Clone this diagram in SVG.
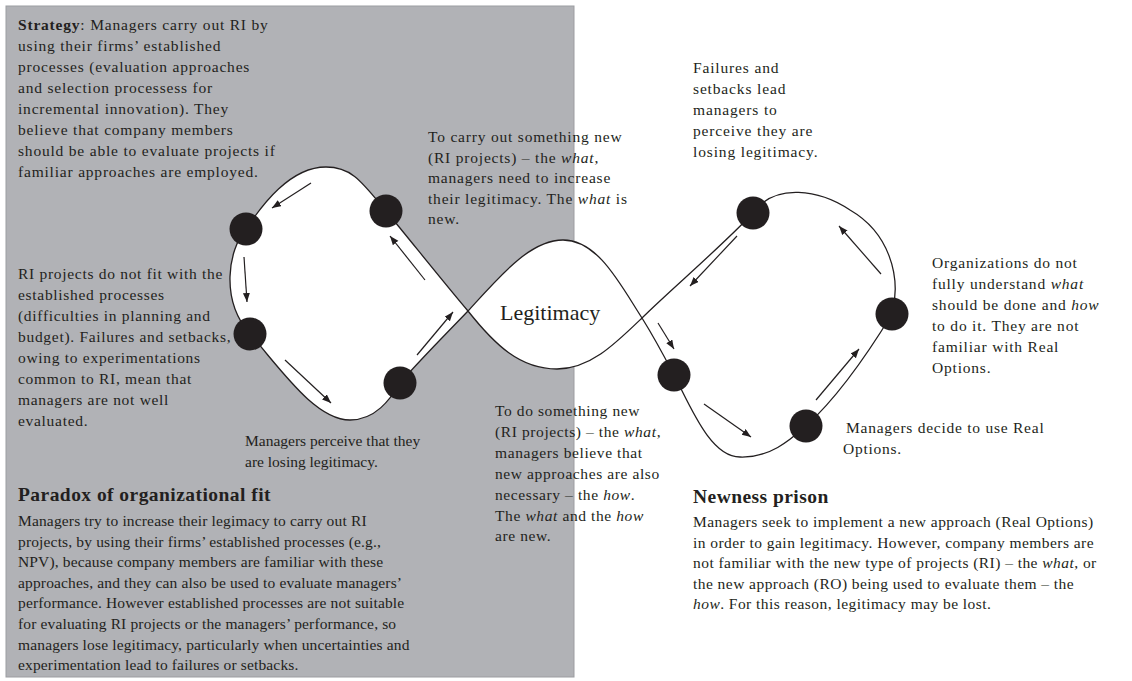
<svg xmlns="http://www.w3.org/2000/svg" width="1132" height="681" viewBox="0 0 1132 681">
<style>
text{font-family:"Liberation Serif","Times New Roman",serif;font-size:15.5px;fill:#231f20}
.h{font-weight:bold;font-size:19.5px;letter-spacing:0.45px}
.big{font-size:22px}
.i{font-style:italic}
.b{font-weight:bold}
.curve{fill:#fff;stroke:#231f20;stroke-width:1.3;fill-rule:nonzero}
.dot{fill:#231f20}
.arr{stroke:#231f20;stroke-width:1.2;fill:none;marker-end:url(#ah)}
#text-strategy text{letter-spacing:0.8px}
#text-ri-fit text{letter-spacing:0.7px}
#text-paradox text.p{letter-spacing:0.15px}
#text-carry-out text{letter-spacing:0.8px}
#text-failures text{letter-spacing:0.85px}
#text-do-new text{letter-spacing:0.6px}
#text-organizations text{letter-spacing:0.8px}
#text-decide text{letter-spacing:0.75px}
#text-newness text.p{letter-spacing:0.45px}
</style>
<defs>
<marker id="ah" markerUnits="userSpaceOnUse" markerWidth="10" markerHeight="8" refX="9" refY="3.5" orient="auto">
<path d="M0,0 L9,3.5 L0,7 z" fill="#231f20"/>
</marker>
</defs>
<rect x="6" y="6" width="568" height="671" fill="#b1b2b6" stroke="#9c9da1" stroke-width="1"/>

<g id="connectors">
<path class="curve" d="M468,311 C445,284 410,240 386,211 C362,182 352,167 326,167 C290,167 262,205 246,229 C228,250 220,300 250,334 C280,368 315,420 350,420 C375,420 390,400 400,383 C420,360 445,335 468,311 C500,276 530,240 563,240 C598,240 620,284 642,318 C652,334 662,352 674,375 C690,405 710,457 740,457 C770,458 790,440 806,426 C840,395 870,350 892,314 C902,275 888,232 850,210 C820,190 775,182 753,213 C720,248 668,292 642,318 C615,344 590,369 557,369 C520,369 495,345 468,311 Z"/>
<line class="arr" x1="311" y1="183" x2="272" y2="208"/>
<line class="arr" x1="244" y1="257" x2="247" y2="302"/>
<line class="arr" x1="285" y1="360" x2="331" y2="403"/>
<line class="arr" x1="417" y1="355" x2="453" y2="312"/>
<line class="arr" x1="425" y1="280" x2="390" y2="236"/>
<line class="arr" x1="737" y1="236" x2="690" y2="286"/>
<line class="arr" x1="658" y1="323" x2="674" y2="349"/>
<line class="arr" x1="704" y1="404" x2="751" y2="437"/>
<line class="arr" x1="816" y1="400" x2="859" y2="349"/>
<line class="arr" x1="881" y1="274" x2="839" y2="226"/>
</g>

<g id="node-left-tl"><circle class="dot" cx="246" cy="229" r="16.5"/></g>
<g id="node-left-tr"><circle class="dot" cx="386" cy="211" r="16.5"/></g>
<g id="node-left-ml"><circle class="dot" cx="250" cy="334" r="16.5"/></g>
<g id="node-left-b"><circle class="dot" cx="400" cy="383" r="16.5"/></g>
<g id="node-right-tl"><circle class="dot" cx="753" cy="213" r="16.5"/></g>
<g id="node-right-r"><circle class="dot" cx="892" cy="314" r="16.5"/></g>
<g id="node-right-b"><circle class="dot" cx="806" cy="426" r="16.5"/></g>
<g id="node-right-l"><circle class="dot" cx="674" cy="375" r="16.5"/></g>

<g id="text-strategy">
<text x="18" y="30"><tspan class="b">Strategy</tspan>: Managers carry out RI by</text>
<text x="18" y="51">using their firms’ established</text>
<text x="18" y="72">processes (evaluation approaches</text>
<text x="18" y="93">and selection processess  for</text>
<text x="18" y="114">incremental innovation). They</text>
<text x="18" y="135">believe that company members</text>
<text x="18" y="156">should be able to evaluate projects if</text>
<text x="18" y="177">familiar approaches are employed.</text>
</g>

<g id="text-ri-fit">
<text x="18" y="279">RI projects do not fit with the</text>
<text x="18" y="300">established  processes</text>
<text x="18" y="321">(difficulties in planning and</text>
<text x="18" y="342">budget). Failures and setbacks,</text>
<text x="18" y="363">owing to experimentations</text>
<text x="18" y="384">common to RI, mean that</text>
<text x="18" y="405">managers are not well</text>
<text x="18" y="426">evaluated.</text>
</g>

<g id="text-perceive">
<text x="245" y="446">Managers perceive that they</text>
<text x="245" y="467">are losing legitimacy.</text>
</g>

<g id="text-paradox">
<text class="h" x="18" y="501">Paradox of organizational fit</text>
<text class="p" x="18" y="526">Managers try to increase their legimacy to carry out RI</text>
<text class="p" x="18" y="547">projects, by using their firms’ established processes (e.g.,</text>
<text class="p" x="18" y="567">NPV), because company members are familiar with these</text>
<text class="p" x="18" y="588">approaches, and they can also be used to evaluate managers’</text>
<text class="p" x="18" y="608">performance. However established  processes are not suitable</text>
<text class="p" x="18" y="629">for evaluating RI projects or the managers’ performance, so</text>
<text class="p" x="18" y="650">managers lose legitimacy, particularly when uncertainties and</text>
<text class="p" x="18" y="670">experimentation lead to failures or setbacks.</text>
</g>

<g id="text-carry-out">
<text x="428" y="142">To carry out something new</text>
<text x="428" y="163">(RI projects) – the <tspan class="i">what</tspan>,</text>
<text x="428" y="183">managers need to increase</text>
<text x="428" y="204">their legitimacy. The <tspan class="i">what</tspan> is</text>
<text x="428" y="224">new.</text>
</g>

<g id="text-failures">
<text x="693" y="73">Failures and</text>
<text x="693" y="94">setbacks lead</text>
<text x="693" y="115">managers to</text>
<text x="693" y="136">perceive they are</text>
<text x="693" y="157">losing legitimacy.</text>
</g>

<g id="text-legitimacy">
<text class="big" x="500" y="320">Legitimacy</text>
</g>

<g id="text-do-new">
<text x="495" y="416">To do something new</text>
<text x="495" y="437">(RI projects) – the <tspan class="i">what</tspan>,</text>
<text x="495" y="458">managers believe that</text>
<text x="495" y="479">new approaches  are also</text>
<text x="495" y="500">necessary – the <tspan class="i">how</tspan>.</text>
<text x="495" y="521">The <tspan class="i">what</tspan> and the <tspan class="i">how</tspan></text>
<text x="495" y="541">are new.</text>
</g>

<g id="text-organizations">
<text x="932" y="268">Organizations do not</text>
<text x="932" y="289">fully understand <tspan class="i">what</tspan></text>
<text x="932" y="310">should be done and <tspan class="i">how</tspan></text>
<text x="932" y="331">to do it. They are not</text>
<text x="932" y="352">familiar with Real</text>
<text x="932" y="373">Options.</text>
</g>

<g id="text-decide">
<text x="846" y="433">Managers decide to use Real</text>
<text x="843" y="454">Options.</text>
</g>

<g id="text-newness">
<text class="h" x="693" y="503">Newness prison</text>
<text class="p" x="693" y="527">Managers seek to implement a new approach (Real Options)</text>
<text class="p" x="693" y="548">in order to gain legitimacy. However,  company members are</text>
<text class="p" x="693" y="568">not familiar with the new type of projects (RI) – the <tspan class="i">what</tspan>, or</text>
<text class="p" x="693" y="589">the new approach (RO) being used to evaluate them – the</text>
<text class="p" x="693" y="609"><tspan class="i">how</tspan>. For this reason, legitimacy may be lost.</text>
</g>
</svg>
